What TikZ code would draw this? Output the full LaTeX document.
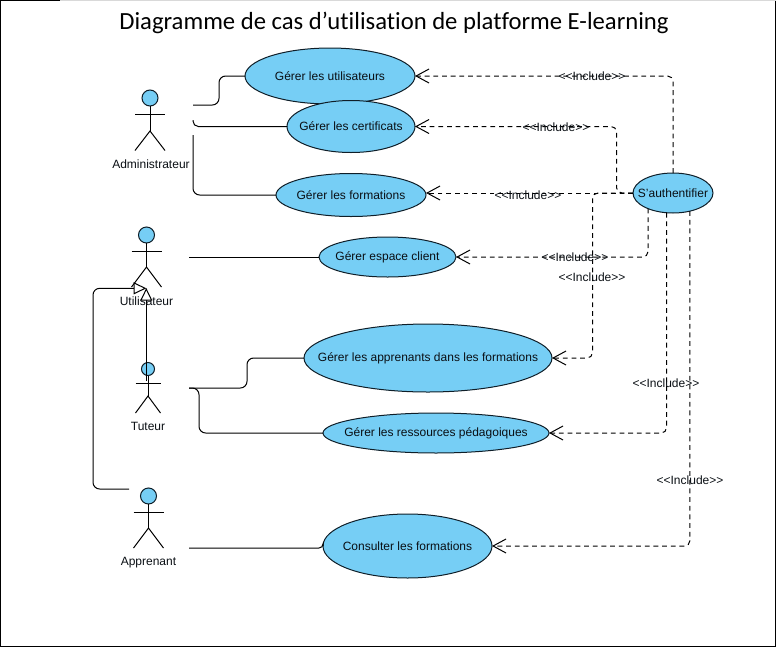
\documentclass[tikz,border=0pt]{standalone}
\usepackage{fontspec}
\setmainfont{Liberation Sans}
\newfontfamily\titlefont[Ligatures=NoCommon]{Carlito}
\usetikzlibrary{arrows.meta,shapes.geometric}
\definecolor{ucblue}{RGB}{118,206,245}
\definecolor{inkline}{RGB}{15,30,40}
\definecolor{inktext}{RGB}{10,15,20}
\newcommand{\uct}[1]{\raisebox{-.6pt}{\makebox[0pt][c]{#1}}}
\tikzset{
  ucase/.style={ellipse,draw=inkline,fill=ucblue,line width=.75pt,inner sep=0pt,outer sep=0pt,font=\fontsize{9}{11}\selectfont,text=inktext},
  headc/.style={circle,draw=inkline,fill=ucblue,line width=.75pt,inner sep=0pt,outer sep=0pt},
  limb/.style={draw=black,line width=.75pt},
  lbl/.style={font=\fontsize{9}{11}\selectfont,text=inktext,inner sep=0pt},
  assoc/.style={draw=black,line width=.75pt,rounded corners=5pt},
  inc/.style={draw=black,line width=.75pt,dash pattern=on 3.6pt off 2.9pt,rounded corners=4pt,-{Straight Barb[length=9.75pt,width=10.5pt,line width=.75pt]}},
  gen/.style={draw=black,line width=.75pt,rounded corners=5pt,-{Triangle[open,fill=white,length=9.5pt,width=9pt,line width=.75pt]}}
}
% name, cx, head y, radius, arm y, half arm, crotch y, foot y
\newcommand{\stickman}[8]{%
  \node[headc,minimum size=#4*1.5pt] (#1) at (#2,#3) {};
  \coordinate (#1-c) at (#2,#7);
  \draw[limb] (#1.south) -- (#1-c);
  \draw[limb] (#2-#6,#5) -- (#2+#6,#5);
  \draw[limb] (#2-#6,#8) -- (#1-c) -- (#2+#6,#8);
}
\begin{document}
\begin{tikzpicture}[x=.75pt,y=-.75pt]
\useasboundingbox (0,0) rectangle (776,647);
\draw[black,line width=1.2pt] (.5,0) -- (.5,646.3) -- (775.3,646.3) -- (775.3,0);
\draw[black!15,line width=.75pt] (60,.3) -- (776,.3);
\draw[black,line width=.75pt] (0,.3) -- (60,.3);
\node[font=\titlefont\fontsize{18.5}{20}\selectfont,text=black,inner sep=0pt] (title) at (394,23) {Diagramme de cas d’utilisation de platforme E-learning};

% actors
\stickman{adm}{150}{98}{8}{114}{15}{131}{150.5}
\stickman{usr}{146.5}{235}{8}{251}{15}{267}{287}
\stickman{tut}{148}{369}{6.5}{383}{12.5}{396}{413}
\stickman{app}{148.5}{496}{8}{512}{15}{528}{548}
\node[lbl] (admL) at (151,164.5) {Administrateur};
\node[lbl] (usrL) at (146.5,301.5) {Utilisateur};
\node[lbl] (tutL) at (148,426) {Tuteur};
\node[lbl] (appL) at (148.5,562.5) {Apprenant};

% use cases
\node[ucase,minimum width=127.5pt,minimum height=42pt] (uc1) at (330,76) {\uct{Gérer les utilisateurs}};
\node[ucase,minimum width=96pt,minimum height=39pt] (uc2) at (351,126.5) {\uct{Gérer les certificats}};
\node[ucase,minimum width=112.5pt,minimum height=32.25pt] (uc3) at (351,195) {\uct{Gérer les formations}};
\node[ucase,minimum width=102.75pt,minimum height=30pt] (uc4) at (387.5,257) {\uct{Gérer espace client}};
\node[ucase,minimum width=186pt,minimum height=51pt] (uc5) at (428,358) {\uct{Gérer les apprenants dans les formations}};
\node[ucase,minimum width=169.5pt,minimum height=30pt] (uc6) at (436,433) {\uct{Gérer les ressources pédagoiques}};
\node[ucase,minimum width=126.75pt,minimum height=48pt] (uc7) at (407.5,546) {\uct{Consulter les formations}};
\node[ucase,minimum width=60pt,minimum height=30pt] (auth) at (673,193) {\uct{S'authentifier}};

% free ends of associations
\coordinate (a1) at (193,105);
\coordinate (a1m) at (219,90);
\coordinate (a2) at (193,120);
\coordinate (a3) at (193,135);
\coordinate (u1) at (189,257);
\coordinate (t1) at (189,388);
\coordinate (t1m) at (247,370);
\coordinate (t2m) at (199,410);
\coordinate (p1) at (189,548);
\draw[assoc] (a1) -| (a1m) |- (uc1.west);
\draw[assoc,rounded corners=4pt] (a2) |- (uc2.west);
\draw[assoc] (a3) |- (uc3.west);
\draw[assoc] (u1) -- (uc4.west);
\draw[assoc] (t1) -| (t1m) |- (uc5.west);
\draw[assoc] (t1) -| (t2m) |- (uc6.west);
\draw[assoc,rounded corners=3pt] (p1) -| (uc7.west);

% generalisations
\coordinate (tg) at (146.3,381);
\coordinate (ug) at (146.3,288);
\coordinate (ag) at (129,489);
\coordinate (ah) at (146.3,288.3);
\coordinate (am) at (93,400);
\draw[gen] (ag) -| (am) |- (ah);
\draw[gen] (tg) -- (ug);

% includes
\coordinate (j2) at (616.5,193);
\coordinate (j5) at (592.5,193);
\draw[inc] (auth.north) |- (uc1.east);
\draw[inc] (auth.west) -- (j2) |- (uc2.east);
\draw[inc] (auth.west) -- (uc3.east |- auth.west);
\draw[inc] (auth.212) |- (uc4.east);
\draw[inc] (auth.west) -- (j5) |- (uc5.east);
\draw[inc] (auth.252.3) |- (uc6.east);
\draw[inc] (auth.313.2) |- (uc7.east);

\node[lbl] (i1) at (592,76.5) {<{}<Include>{}>};
\node[lbl] (i2) at (556,127) {<{}<Include>{}>};
\node[lbl] (i3) at (528,195) {<{}<Include>{}>};
\node[lbl] (i4) at (575,257.5) {<{}<Include>{}>};
\node[lbl] (i5) at (592,277) {<{}<Include>{}>};
\node[lbl] (i6) at (666,383) {<{}<Include>{}>};
\node[lbl] (i7) at (690,480) {<{}<Include>{}>};
\end{tikzpicture}
\end{document}
